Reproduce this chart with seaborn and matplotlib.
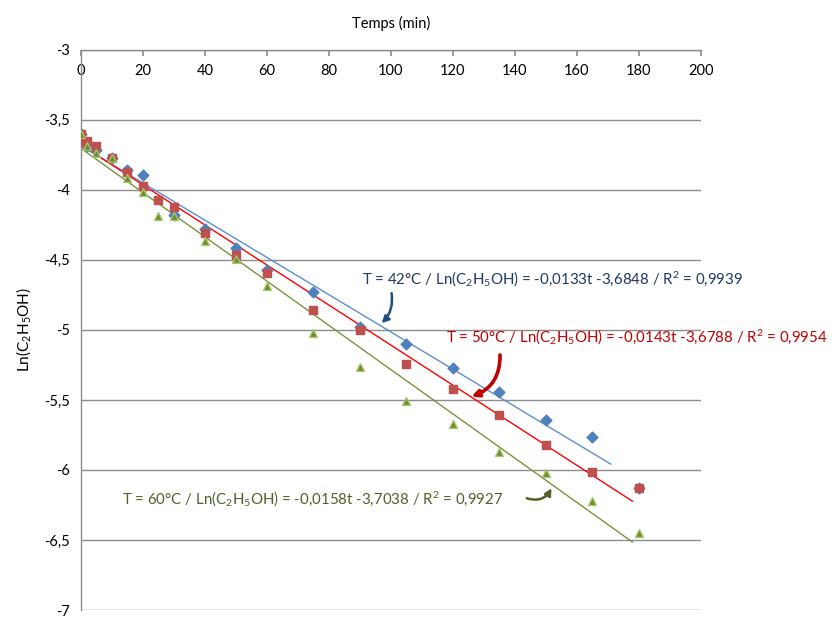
import numpy as np
import pandas as pd
import matplotlib
matplotlib.use("Agg")
import matplotlib.pyplot as plt
from matplotlib.ticker import FuncFormatter
import seaborn as sns

sns.set_theme(style="white")
plt.rcParams['font.family'] = ['Lato', 'DejaVu Sans']
plt.rcParams['mathtext.fontset'] = 'custom'
plt.rcParams['mathtext.rm'] = 'Lato'
plt.rcParams['mathtext.it'] = 'Lato:italic'

# temps (min) et Ln(C2H5OH)
t_42 = [0, 2, 5, 10, 15, 20, 30, 40, 50, 60, 75, 90, 105, 120, 135, 150, 165, 180]
ln_42 = [-3.60, -3.686, -3.714, -3.77, -3.857, -3.895, -4.18, -4.281, -4.412, -4.571,
         -4.726, -4.976, -5.098, -5.274, -5.44, -5.643, -5.762, -6.126]

t_50 = [0, 1, 2, 5, 10, 15, 20, 25, 30, 40, 50, 60, 75, 90, 105, 120, 135, 150, 165, 180]
ln_50 = [-3.60, -3.655, -3.648, -3.69, -3.77, -3.869, -3.971, -4.07, -4.124, -4.31,
         -4.464, -4.595, -4.857, -5.0, -5.245, -5.424, -5.604, -5.82, -6.017, -6.126]

t_60 = [0, 2, 5, 10, 15, 20, 25, 30, 40, 50, 60, 75, 90, 105, 120, 135, 150, 165, 180]
ln_60 = [-3.60, -3.69, -3.738, -3.77, -3.917, -4.017, -4.19, -4.186, -4.364, -4.493,
         -4.69, -5.024, -5.267, -5.505, -5.671, -5.869, -6.024, -6.219, -6.448]

# droites de tendance
pentes = [-0.0133, -0.0143, -0.0158]
ordonnees = [-3.6848, -3.6788, -3.7038]
fin_tendance = [171, 178, 178]
labels = ["T = 42°C / Ln(C$_2$H$_5$OH) = -0,0133t -3,6848 / R$^2$ = 0,9939",
          "T = 50°C / Ln(C$_2$H$_5$OH) = -0,0143t -3,6788 / R$^2$ = 0,9954",
          "T = 60°C / Ln(C$_2$H$_5$OH) = -0,0158t -3,7038 / R$^2$ = 0,9927"]

marker_fill = ["#4F81BD", "#C0504D", "#6E8B2E"]
marker_edge = ["#4F81BD", "#C0504D", "#A6C46A"]
markers = ["D", "s", "^"]
line_col = ["#5B8FD0", "#FF0000", "#77933C"]
text_col = ["#1F3864", "#C00000", "#4F6228"]

fig = plt.figure(figsize=(8.4, 6.17), dpi=100)
ax = fig.add_axes([0.0964, 0.0113, 0.738, 0.908])

series = [(t_42, ln_42), (t_50, ln_50), (t_60, ln_60)]
for i, (t, y) in enumerate(series):
    xs = np.array([0, fin_tendance[i]])
    sns.lineplot(x=xs, y=pentes[i] * xs + ordonnees[i], ax=ax, color=line_col[i],
                 lw=1.0, zorder=2)
for i, (t, y) in enumerate(series):
    sns.scatterplot(x=t, y=y, ax=ax, marker=markers[i], color=marker_fill[i],
                    edgecolor=marker_edge[i], linewidth=1.0,
                    s=32 if markers[i] != "D" else 30, zorder=3)

ax.set_xlim(0, 200)
ax.set_ylim(-7, -3)
ax.set_yticks(np.arange(-7, -2.9, 0.5))
ax.set_xticks(range(0, 201, 20))
ax.yaxis.grid(True, color="#8C8C8C", lw=1.0)
ax.xaxis.grid(False)
for s in ["right", "bottom"]:
    ax.spines[s].set_visible(False)
for s in ["left", "top"]:
    ax.spines[s].set_color("#8C8C8C")
    ax.spines[s].set_linewidth(1.0)

comma = FuncFormatter(lambda v, p: ("%g" % v).replace(".", ","))
ax.yaxis.set_major_formatter(comma)
ax.xaxis.tick_top()
ax.xaxis.set_label_position("top")
ax.tick_params(axis="x", direction="in", length=4, color="#8C8C8C",
               pad=-20, labelsize=10.5, labelcolor="black")
ax.tick_params(axis="y", direction="out", length=4, color="#8C8C8C",
               pad=4, labelsize=10.5, labelcolor="black")
ax.set_xlabel("Temps (min)", fontsize=10.5, labelpad=15.5, color="black")
ax.set_ylabel("Ln(C$_2$H$_5$OH)", fontsize=11, labelpad=8, color="black")

# étiquettes des droites et flèches
pos_txt = [(90.6, -4.643), (117.7, -5.057), (13.1, -6.214)]
for i in range(3):
    ax.text(pos_txt[i][0], pos_txt[i][1], labels[i], color=text_col[i],
            fontsize=10.8, ha="left", va="center")

arrows = [((100.2, -4.738), (97.0, -4.952), -0.25, 1.8, "#1F4E79"),
          ((135.2, -5.179), (126.0, -5.476), -0.35, 2.6, "#C00000"),
          ((143.8, -6.202), (151.8, -6.131), 0.4, 1.8, "#4F6228")]
for start, end, rad, w, c in arrows:
    ax.annotate("", xy=end, xytext=start,
                arrowprops=dict(arrowstyle="-|>", color=c, lw=w,
                                connectionstyle="arc3,rad=%s" % rad,
                                mutation_scale=10, shrinkA=0, shrinkB=0))

fig.savefig("out.png", dpi=100)
